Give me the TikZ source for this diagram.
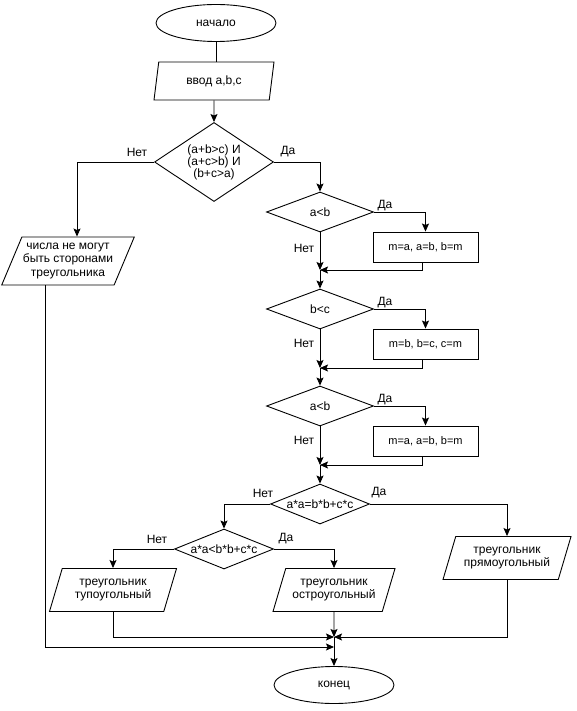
\documentclass[tikz,border=0pt]{standalone}
\usepackage{fontspec}
\setmainfont{Liberation Sans}
\usetikzlibrary{shapes.geometric,arrows.meta}

\begin{document}
\begin{tikzpicture}[x=1pt,y=-1pt,
    every node/.style={font=\fontsize{12}{13}\selectfont},
    term/.style={draw,ellipse,minimum width=120pt,minimum height=37pt,inner sep=0pt},
    io/.style={draw,trapezium,trapezium left angle=62,trapezium right angle=118,
      trapezium stretches body,align=center,inner sep=1pt},
    cond/.style={draw,diamond,aspect=2.5,inner sep=-2pt,minimum width=107pt,minimum height=40pt,align=center},
    proc/.style={draw,rectangle,minimum width=105pt,minimum height=30pt,font=\fontsize{11}{13}\selectfont},
    lbl/.style={inner sep=0pt},
    arr/.style={-{Stealth[length=8pt,width=7pt,inset=1.5pt]}},
    line width=0.9pt]
  \useasboundingbox (0,0) rectangle (576,711);

  % blocks
  \node[term] (start) at (216,23) {начало};
  \node[io,trapezium left angle=70,trapezium right angle=110,minimum width=120pt,minimum height=38pt] (input) at (214,81) {ввод a,b,c};
  \node[cond,aspect=1.5,minimum width=119pt,minimum height=79pt,inner sep=-8pt,
    font=\fontsize{12}{12}\selectfont] (tri) at (214,162) {(a+b>c) И\\(a+c>b) И\\(b+c>a)};
  \node[io,minimum width=126pt,minimum height=48pt,font=\fontsize{12}{13.5}\selectfont] (notri) at (68,261) {числа не могут\\быть сторонами\\треугольника};

  \node[cond] (ab1) at (320,212) {a<b};
  \node[proc] (swap1) at (425.5,247) {m=a, a=b, b=m};
  \coordinate (m1) at (320,270);
  \node[cond] (bc) at (320,309) {b<c};
  \node[proc] (swap2) at (425.5,344) {m=b, b=c, c=m};
  \coordinate (m2) at (320,368);
  \node[cond] (ab2) at (320,406) {a<b};
  \node[proc] (swap3) at (425.5,441) {m=a, a=b, b=m};
  \coordinate (m3) at (320,465);

  \node[cond,minimum width=99pt] (rect) at (320,504) {a*a=b*b+c*c};
  \node[cond,minimum width=99pt] (acute) at (224,549) {a*a<b*b+c*c};
  \node[io,minimum width=127pt,minimum height=43pt] (obtout) at (113,590) {треугольник\\тупоугольный};
  \node[io,minimum width=122pt,minimum height=43pt] (acuteout) at (334,590) {треугольник\\остроугольный};
  \node[io,minimum width=128pt,minimum height=43pt] (rectout) at (507,558) {треугольник\\прямоугольный};
  \coordinate (join) at (334,637);
  \coordinate (join2) at (334,647);
  \node[term] (stop) at (334,685) {конец};

  % labels
  \node[lbl] (no0) at (137,152) {Нет};
  \node[lbl] (yes0) at (288,152) {Да};
  \node[lbl] (yes1) at (385,206) {Да};
  \node[lbl] (no1) at (304,248) {Нет};
  \node[lbl] (yes2) at (385,303) {Да};
  \node[lbl] (no2) at (304,343) {Нет};
  \node[lbl] (yes3) at (385,400) {Да};
  \node[lbl] (no3) at (304,440) {Нет};
  \node[lbl] (no4) at (263,493) {Нет};
  \node[lbl] (yes4) at (379,493) {Да};
  \node[lbl] (no5) at (157,539) {Нет};
  \node[lbl] (yes5) at (286,539) {Да};

  % connectors
  \draw (start.south) -- (start.south |- input.north);
  \draw[arr] (input.south) -- (tri.north);
  \draw[arr] (tri.west) -| ([xshift=9pt]notri.north);
  \draw[arr] (tri.east) -| (ab1.north);

  \draw[arr] (ab1.east) -| (swap1.north);
  \draw[arr] (ab1.south) -- (m1);
  \draw[arr] ([xshift=-3pt]swap1.south) |- (m1);
  \draw[arr] (m1) -- (bc.north);

  \draw[arr] (bc.east) -| (swap2.north);
  \draw[arr] (bc.south) -- (m2);
  \draw[arr] ([xshift=-3pt]swap2.south) |- (m2);
  \draw[arr] (m2) -- (ab2.north);

  \draw[arr] (ab2.east) -| (swap3.north);
  \draw[arr] (ab2.south) -- (m3);
  \draw[arr] ([xshift=-3pt]swap3.south) |- (m3);
  \draw[arr] (m3) -- (rect.north);

  \draw[arr] (rect.west) -| (acute.north);
  \draw[arr] (rect.east) -| (rectout.north);
  \draw[arr] (acute.west) -| (obtout.north);
  \draw[arr] (acute.east) -| (acuteout.north);

  \draw[arr] (obtout.south) |- (join);
  \draw[arr] (acuteout.south) -- (join);
  \draw[arr] (rectout.south) |- (join);
  \draw[arr] ([xshift=-23pt]notri.south) |- (join2);
  \draw[arr] (join) -- (stop.north);
\end{tikzpicture}
\end{document}
